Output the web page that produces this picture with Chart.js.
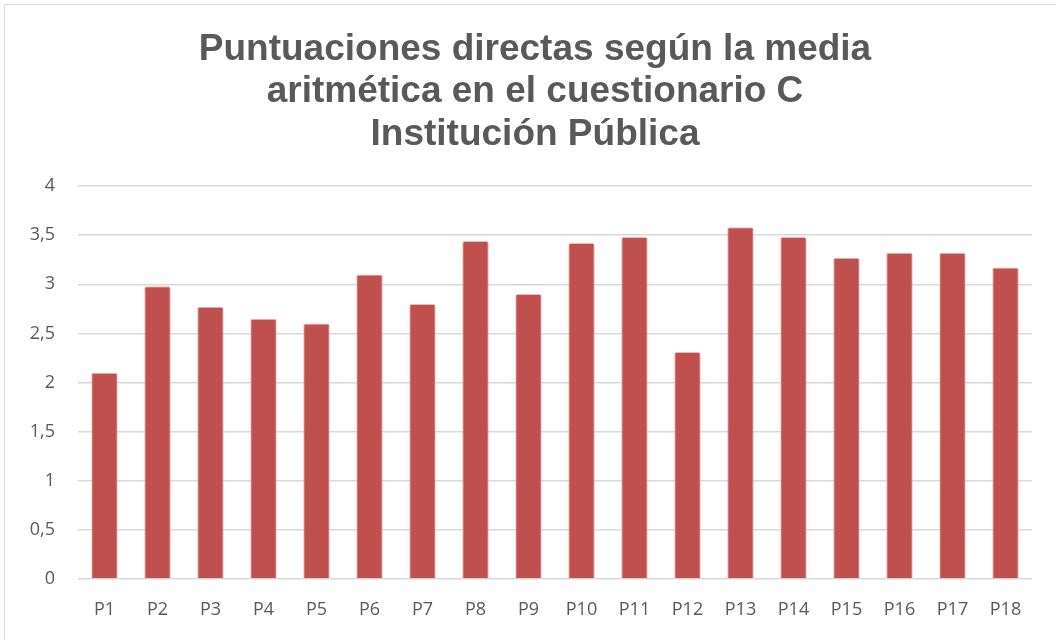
<!DOCTYPE html>
<html>
<head>
<meta charset="utf-8">
<script src="https://cdn.jsdelivr.net/npm/chart.js@4.4.1/dist/chart.umd.min.js"></script>
<style>
  html, body { margin: 0; padding: 0; background: #fff; overflow: hidden; }
  .frame { position: absolute; left: 4px; top: 4px; width: 1070px; height: 660px; border: 1px solid #d9d9d9; box-sizing: border-box; }
  .wrap { position: absolute; left: 0; top: 0; width: 1056px; height: 640px; }
</style>
</head>
<body>
<div class="frame"></div>
<div class="wrap"><canvas id="chart" width="1056" height="640"></canvas></div>
<script>
/* ---------- Datos ---------- */
const TITLE_LINES = [
  'Puntuaciones directas según la media',
  'aritmética en el cuestionario C',
  'Institución Pública'
];
const CATEGORIES = ['P1', 'P2', 'P3', 'P4', 'P5', 'P6', 'P7', 'P8', 'P9',
                    'P10', 'P11', 'P12', 'P13', 'P14', 'P15', 'P16', 'P17', 'P18'];
const MEDIAS = [2.10, 2.98, 2.77, 2.65, 2.60, 3.10, 2.80, 3.44, 2.90,
                3.42, 3.48, 2.31, 3.58, 3.48, 3.27, 3.32, 3.32, 3.17];
const Y_MIN = 0, Y_MAX = 4, Y_STEP = 0.5;

const GREY_TEXT = '#595959';
const GRID = '#d9d9d9';

/* ---------- Título (centrado sobre el marco, no sobre el área del canvas) ---------- */
const titlePlugin = {
  id: 'tituloCentrado',
  afterDraw(chart) {
    const c = chart.ctx;
    c.save();
    c.fillStyle = GREY_TEXT;
    c.font = 'bold 37px "Liberation Sans", Arial, sans-serif';
    c.textAlign = 'center';
    c.textBaseline = 'middle';
    TITLE_LINES.forEach((line, i) => c.fillText(line, 535, 49.5 + i * 42.5));
    c.restore();
  },
};

const ctx = document.getElementById('chart').getContext('2d');
new Chart(ctx, {
  type: 'bar',
  data: {
    labels: CATEGORIES,
    datasets: [{
      label: 'Media',
      data: MEDIAS,
      backgroundColor: '#C0504D',
      borderColor: '#e8bcbb',
      borderWidth: 1,
      borderRadius: 2,
      borderSkipped: 'bottom',
      categoryPercentage: 1,
      barPercentage: 0.5,
    }],
  },
  plugins: [titlePlugin],
  options: {
    responsive: false,
    animation: false,
    layout: { padding: { top: 186, right: 24, bottom: 0, left: 0 } },
    plugins: {
      legend: { display: false },
      tooltip: { enabled: false },
      title: { display: false },
    },
    scales: {
      x: {
        grid: { display: false },
        border: { display: false },
        ticks: {
          color: GREY_TEXT,
          font: { family: '"Open Sans", sans-serif', size: 18 },
          padding: 12,
          maxRotation: 0,
        },
        afterFit: s => { s.height = 61; },
      },
      y: {
        min: Y_MIN,
        max: Y_MAX,
        border: { display: false },
        grid: { color: GRID, lineWidth: 1.5, drawTicks: false },
        ticks: {
          stepSize: Y_STEP,
          color: GREY_TEXT,
          font: { family: '"Open Sans", sans-serif', size: 18 },
          padding: 23,
          callback: v => String(v).replace('.', ','),
        },
        afterFit: s => { s.width = 78; },
      },
    },
  },
});
</script>
</body>
</html>
